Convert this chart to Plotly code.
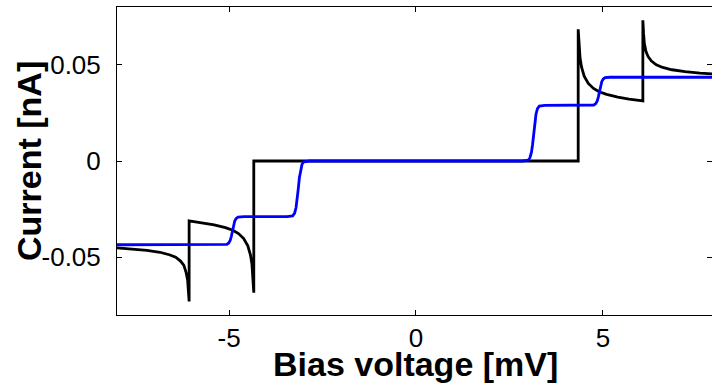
import plotly.graph_objects as go

# ---- data ----
bias_black = [-8.00, -7.60, -7.20, -6.85, -6.60, -6.43, -6.30, -6.21, -6.15, -6.11, -6.09, -6.07,
              -6.07, -5.70, -5.40, -5.10, -4.90, -4.75, -4.61, -4.50, -4.43, -4.39, -4.36, -4.34,
              -4.34, 4.34,
              4.34, 4.36, 4.39, 4.43, 4.50, 4.61, 4.75, 4.90, 5.10, 5.40, 5.70, 6.07,
              6.07, 6.09, 6.11, 6.15, 6.21, 6.30, 6.43, 6.60, 6.85, 7.20, 7.60, 8.00]
current_black = [-0.0451, -0.0457, -0.0464, -0.0474, -0.0487, -0.0500, -0.0520, -0.0542, -0.0580, -0.0620, -0.0665, -0.0730,
                 -0.0311, -0.0321, -0.0332, -0.0346, -0.0360, -0.0377, -0.0403, -0.0441, -0.0487, -0.0535, -0.0599, -0.0684,
                 0.0, 0.0,
                 0.0684, 0.0599, 0.0535, 0.0487, 0.0441, 0.0403, 0.0377, 0.0360, 0.0346, 0.0332, 0.0321, 0.0312,
                 0.0731, 0.0660, 0.0610, 0.0571, 0.0542, 0.0519, 0.0500, 0.0486, 0.0474, 0.0464, 0.0457, 0.0452]

bias_blue = [-8.00, -5.20,
             -5.06, -5.01, -4.97, -4.94, -4.91, -4.88, -4.85, -4.81, -4.76,
             -4.60, -3.45,
             -3.30, -3.25, -3.21, -3.18, -3.15, -3.12, -3.09, -3.05, -3.00,
             -2.85, 2.85,
             3.00, 3.05, 3.09, 3.12, 3.15, 3.18, 3.21, 3.25, 3.30,
             3.45, 4.60,
             4.76, 4.81, 4.85, 4.88, 4.91, 4.94, 4.97, 5.01, 5.06,
             5.20, 8.00]
current_blue = [-0.0435, -0.0435,
                -0.0433, -0.0426, -0.0412, -0.0391, -0.0362, -0.0333, -0.0312, -0.0298, -0.0291,
                -0.0289, -0.0289,
                -0.0285, -0.0272, -0.0243, -0.0202, -0.0145, -0.0087, -0.0046, -0.0017, -0.0004,
                0.0, 0.0,
                0.0004, 0.0017, 0.0046, 0.0087, 0.0145, 0.0202, 0.0243, 0.0272, 0.0285,
                0.0289, 0.0289,
                0.0291, 0.0298, 0.0312, 0.0333, 0.0362, 0.0391, 0.0412, 0.0426, 0.0433,
                0.0435, 0.0435]

x_tickvals = [-5, 0, 5]
x_ticktext = ["-5", "0", "5"]
y_tickvals = [-0.05, 0, 0.05]
y_ticktext = ["-0.05", "0", "0.05"]
x_title = "Bias voltage [mV]"
y_title = "Current [nA]"

FONT = "Liberation Sans, Arial, Helvetica, sans-serif"
X_RANGE = [-8, 7.92]
Y_RANGE = [-0.08, 0.08]

fig = go.Figure()
fig.add_trace(go.Scatter(x=bias_black, y=current_black, mode="lines",
                         line=dict(color="#000000", width=2.8), showlegend=False, hoverinfo="skip"))
fig.add_trace(go.Scatter(x=bias_blue, y=current_blue, mode="lines",
                         line=dict(color="#0000ff", width=2.8), showlegend=False, hoverinfo="skip"))
# empty trace to host right-side tick axis
fig.add_trace(go.Scatter(x=[], y=[], yaxis="y2", showlegend=False, hoverinfo="skip"))

fig.update_layout(
    width=712, height=390,
    margin=dict(l=117, r=0, t=7, b=75),
    paper_bgcolor="white", plot_bgcolor="white",
    font=dict(family=FONT, color="black", size=26),
    xaxis=dict(range=X_RANGE, tickvals=x_tickvals, ticktext=x_ticktext,
               ticks="inside", ticklen=5, tickwidth=1, tickcolor="black",
               showline=True, linecolor="black", linewidth=1, mirror="ticks",
               showgrid=False, zeroline=False, tickfont=dict(size=26),
               ticklabelstandoff=0),
    yaxis=dict(range=Y_RANGE, tickvals=y_tickvals, ticktext=y_ticktext,
               ticks="inside", ticklen=5, tickwidth=1, tickcolor="black",
               showline=True, linecolor="black", linewidth=1, mirror=False,
               showgrid=False, zeroline=False, tickfont=dict(size=26),
               ticklabelstandoff=10),
    yaxis2=dict(range=Y_RANGE, tickvals=y_tickvals, overlaying="y", side="right",
                anchor="x", ticks="inside", ticklen=5, tickwidth=1, tickcolor="black",
                showline=False, showticklabels=False, showgrid=False, zeroline=False),
    annotations=[
        dict(text="<b>" + x_title + "</b>", xref="x", yref="paper", x=0, y=0,
             xanchor="center", yanchor="top", yshift=-28, showarrow=False,
             font=dict(family=FONT, size=34, color="black")),
        dict(text="<b>" + y_title + "</b>", xref="paper", yref="paper", x=0, y=0.5,
             xanchor="center", yanchor="middle", xshift=-88, textangle=-90, showarrow=False,
             font=dict(family=FONT, size=34, color="black")),
    ],
)

fig.write_html("out.html")
